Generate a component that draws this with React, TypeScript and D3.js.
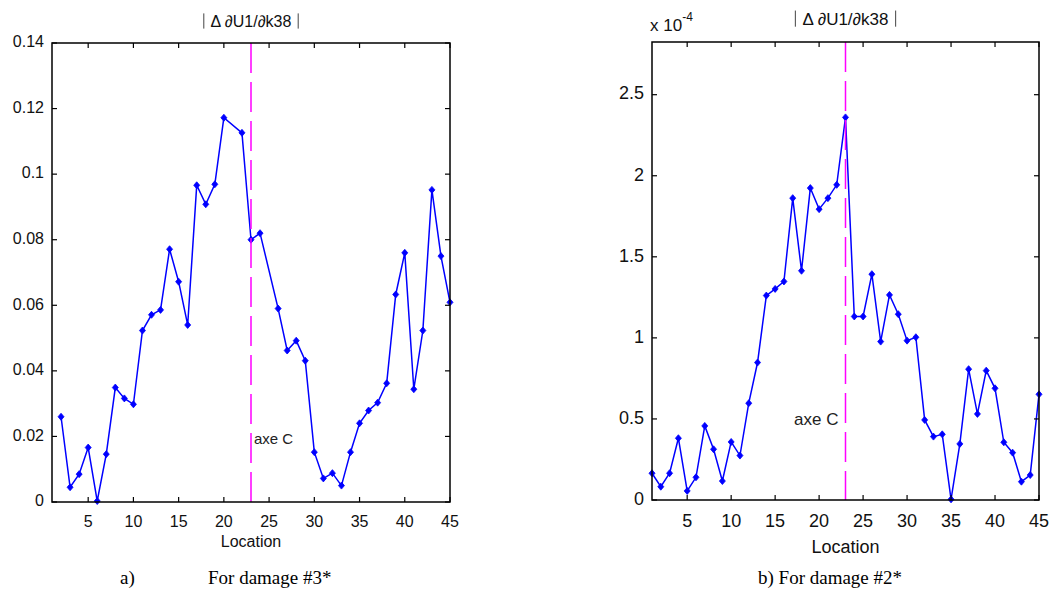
import React from "react";
import * as d3 from "d3";

// ---- Data ----
const locationsA = [2,3,4,5,6,7,8,9,10,11,12,13,14,15,16,17,18,19,20,22,23,24,26,27,28,29,30,31,32,33,34,35,36,37,38,39,40,41,42,43,44,45];
const valuesA = [0.026,0.0045,0.0085,0.0166,0.0003,0.0146,0.0349,0.0316,0.0298,0.0523,0.0571,0.0586,0.0771,0.0672,0.054,0.0966,0.0908,0.0969,0.1172,0.1126,0.080,0.082,0.059,0.0462,0.0492,0.0431,0.0152,0.0072,0.0088,0.005,0.0152,0.024,0.0279,0.0303,0.0362,0.0633,0.076,0.0344,0.0523,0.0952,0.075,0.0609];

const locationsB = d3.range(1, 46);
const valuesB = [0.165,0.082,0.165,0.381,0.056,0.14,0.457,0.313,0.117,0.358,0.274,0.597,0.848,1.261,1.302,1.348,1.862,1.414,1.924,1.794,1.862,1.944,2.36,1.132,1.132,1.393,0.977,1.265,1.146,0.983,1.004,0.494,0.391,0.405,0.004,0.346,0.807,0.531,0.798,0.689,0.356,0.292,0.113,0.154,0.652];

const xTicks = [5,10,15,20,25,30,35,40,45];
const yTicksA = [0,0.02,0.04,0.06,0.08,0.1,0.12,0.14];
const yTickLabelsA = ["0","0.02","0.04","0.06","0.08","0.1","0.12","0.14"];
const yTicksB = [0,0.5,1,1.5,2,2.5];
const yTickLabelsB = ["0","0.5","1","1.5","2","2.5"];

const axeLocation = 23;
const titleText = "\u0394 \u2202U1/\u2202k38";

const SANS = "Arial, 'Liberation Sans', sans-serif";
const SERIF = "'Times New Roman', 'Liberation Serif', serif";

type PanelProps = {
  left: number; right: number; top: number; bottom: number;
  locs: number[]; vals: number[]; yMax: number;
  yTicks: number[]; yLabels: string[];
  tickFont: number; labelFont: number; axeFont: number; titleFont: number;
  axeDy: number; axeLeft: boolean; titleY: number; locationY: number; xLabelY: number;
};

function Panel(p: PanelProps) {
  const x = d3.scaleLinear().domain([1, 45]).range([p.left, p.right]);
  const y = d3.scaleLinear().domain([0, p.yMax]).range([p.bottom, p.top]);
  const pts = p.locs.map((l, i) => [l, p.vals[i]] as [number, number]);
  const line = d3.line<[number, number]>().x(d => x(d[0])).y(d => y(d[1]));
  const tl = 5;
  const cx = (p.left + p.right) / 2;
  return (
    <g>
      <path d={line(pts) || ""} fill="none" stroke="#0000ff" strokeWidth={1.5} />
      {pts.map((d, i) => (
        <path key={i} transform={`translate(${x(d[0])},${y(d[1])})`}
          d="M0,-3.5L3,0L0,3.5L-3,0Z" fill="#0000ff" stroke="#0000ff" strokeWidth={0.8} />
      ))}
      <line x1={x(axeLocation)} x2={x(axeLocation)} y1={p.top} y2={p.bottom}
        stroke="#ff00ff" strokeWidth={1.5} strokeDasharray="30,9" />
      <text x={p.axeLeft ? x(axeLocation) - 7 : x(axeLocation) + 3} y={y(p.axeDy)}
        textAnchor={p.axeLeft ? "end" : "start"} fontFamily={SANS} fontSize={p.axeFont} fill="#222" dominantBaseline="middle">axe C</text>
      <rect x={p.left} y={p.top} width={p.right - p.left} height={p.bottom - p.top} fill="none" stroke="#000" strokeWidth={1.5} />
      {xTicks.map(t => (
        <g key={"x" + t}>
          <line x1={x(t)} x2={x(t)} y1={p.bottom} y2={p.bottom - tl} stroke="#000" strokeWidth={1.2} />
          <line x1={x(t)} x2={x(t)} y1={p.top} y2={p.top + tl} stroke="#000" strokeWidth={1.2} />
          <text x={x(t)} y={p.xLabelY} textAnchor="middle" fontFamily={SANS} fontSize={p.tickFont} fill="#111">{t}</text>
        </g>
      ))}
      {p.yTicks.map((t, i) => (
        <g key={"y" + t}>
          <line x1={p.left} x2={p.left + tl} y1={y(t)} y2={y(t)} stroke="#000" strokeWidth={1.2} />
          <line x1={p.right} x2={p.right - tl} y1={y(t)} y2={y(t)} stroke="#000" strokeWidth={1.2} />
          <text x={p.left - 8} y={y(t)} textAnchor="end" dominantBaseline="middle" fontFamily={SANS} fontSize={p.tickFont} fill="#111">{p.yLabels[i]}</text>
        </g>
      ))}
      <g fontFamily={SANS} fontSize={p.titleFont} fill="#111">
        <text x={cx} y={p.titleY} textAnchor="middle">{titleText}</text>
      </g>
      <TitleBars cx={cx} y={p.titleY} font={p.titleFont} />
      <text x={cx} y={p.locationY} textAnchor="middle" fontFamily={SANS} fontSize={p.labelFont} fill="#111">Location</text>
    </g>
  );
}

function TitleBars({ cx, y, font }: { cx: number; y: number; font: number }) {
  const half = font * 2.95;
  return (
    <g stroke="#444" strokeWidth={1}>
      <line x1={cx - half} x2={cx - half} y1={y - font * 0.85} y2={y + font * 0.1} />
      <line x1={cx + half} x2={cx + half} y1={y - font * 0.85} y2={y + font * 0.1} />
    </g>
  );
}

export default function App() {
  return (
    <svg width={1054} height={593} style={{ position: "absolute", left: 0, top: 0, background: "#fff" }}>
      <rect x={0} y={0} width={1054} height={593} fill="#fff" />
      <Panel left={52} right={450} top={43} bottom={502} locs={locationsA} vals={valuesA} yMax={0.14}
        yTicks={yTicksA} yLabels={yTickLabelsA} tickFont={16} labelFont={16} axeFont={15} titleFont={16}
        axeDy={0.019} axeLeft={false} titleY={27} locationY={547} xLabelY={527} />
      <Panel left={652} right={1039} top={42} bottom={500} locs={locationsB} vals={valuesB} yMax={2.825}
        yTicks={yTicksB} yLabels={yTickLabelsB} tickFont={18} labelFont={18} axeFont={17} titleFont={17}
        axeDy={0.49} axeLeft={true} titleY={25} locationY={553} xLabelY={527} />
      <text x={650} y={31} fontFamily={SANS} fontSize={17} fill="#111">x 10<tspan dy={-10} fontSize={12}>-4</tspan></text>
      <text x={120} y={584} fontFamily={SERIF} fontSize={19} fill="#000">a)</text>
      <text x={208} y={584} fontFamily={SERIF} fontSize={19} fill="#000">For damage #3*</text>
      <text x={758} y={584} fontFamily={SERIF} fontSize={19} fill="#000">b) For damage #2*</text>
    </svg>
  );
}
